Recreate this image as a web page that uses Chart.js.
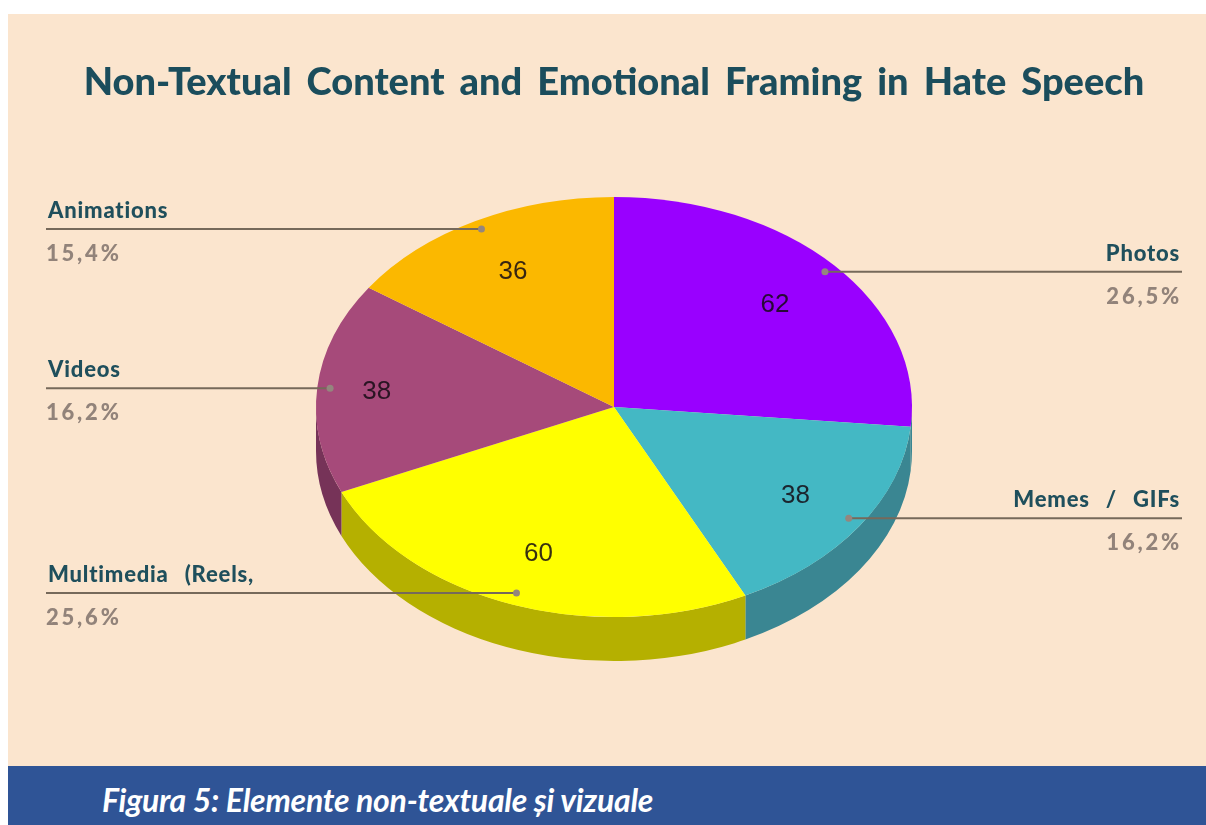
<!DOCTYPE html>
<html><head><meta charset="utf-8">
<script src="https://cdn.jsdelivr.net/npm/chart.js@4"></script>
<style>
html,body{margin:0;padding:0;background:#fff;width:1206px;height:825px;overflow:hidden}
#bg{position:absolute;left:8px;top:14px;width:1198px;height:752px;background:#FBE5CE}
#band{position:absolute;left:8px;top:766px;width:1198px;height:59px;background:#2F5496}
#cap{position:absolute;left:102px;top:780px;color:#fff;font:italic 700 32px Lato,sans-serif;letter-spacing:-0.24px;white-space:nowrap}
canvas{position:absolute;left:0;top:0}
</style></head><body>
<div id="bg"></div><div id="band"></div>
<div id="cap">Figura 5: Elemente non-textuale și vizuale</div>
<canvas id="c" width="1206" height="825"></canvas>
<script>
const titleText = "Non-Textual Content and Emotional Framing in Hate Speech";
const categories = ["Photos", "Memes / GIFs", "Multimedia (Reels,", "Videos", "Animations"];
const values = [62, 38, 60, 38, 36];
const percents = ["26,5%", "16,2%", "25,6%", "16,2%", "15,4%"];
const topColors = ["#9900FF", "#44B8C4", "#FFFF00", "#A64A7A", "#FBB800"];
const wallColors = ["#3A8692", "#3A8692", "#B5B000", "#763358", "#B08100"];

const SQUASH = 0.705, DEPTH = 44, RADIUS = 298;
const VALUE_RATIO = [0.73, 0.74, 0.74, 0.8, 0.73];

const pie3d = {
  id: "pie3d",
  beforeDatasetsDraw(chart) {
    const ctx = chart.ctx, arcs = chart.getDatasetMeta(0).data;
    const cx = arcs[0].x, cy = arcs[0].y, rx = arcs[0].outerRadius, ry = rx * SQUASH;
    ctx.save();
    arcs.forEach((a, i) => {
      const s = Math.max(a.startAngle, 0), e = Math.min(a.endAngle, Math.PI);
      if (e <= s) return;
      ctx.beginPath();
      ctx.ellipse(cx, cy, rx, ry, 0, s, e);
      ctx.ellipse(cx, cy + DEPTH, rx, ry, 0, e, s, true);
      ctx.closePath();
      ctx.fillStyle = wallColors[i];
      ctx.fill();
    });
    ctx.restore();
    ctx.save();
    ctx.translate(cx, cy); ctx.scale(1, SQUASH); ctx.translate(-cx, -cy);
  },
  afterDatasetsDraw(chart) {
    const ctx = chart.ctx;
    ctx.restore();
    const arcs = chart.getDatasetMeta(0).data;
    arcs.forEach((a, i) => {
      const mid = (a.startAngle + a.endAngle) / 2, c = Math.cos(mid), s = Math.sin(mid);
      const R = a.outerRadius;
      // value inside the slice
      ctx.save();
      ctx.font = "26px 'Liberation Sans'";
      ctx.fillStyle = "rgba(20,10,20,0.85)";
      ctx.textAlign = "center"; ctx.textBaseline = "middle";
      const vr = VALUE_RATIO[i];
      ctx.fillText(String(values[i]), a.x + c * R * vr, a.y + s * R * vr * SQUASH + 1);
      ctx.restore();
      // callout
      const dx = a.x + c * R * 0.957, dy = a.y + s * R * 0.957 * SQUASH - (s > 0 ? 3 : 0);
      const right = c > 0, end = right ? 1182 : 46;
      ctx.save();
      ctx.strokeStyle = "#76695A"; ctx.lineWidth = 2;
      ctx.beginPath(); ctx.moveTo(dx, dy); ctx.lineTo(end, dy); ctx.stroke();
      ctx.fillStyle = "#94867E";
      ctx.beginPath(); ctx.arc(dx, dy, 3.5, 0, 2 * Math.PI); ctx.fill();
      ctx.textAlign = right ? "right" : "left";
      ctx.textBaseline = "alphabetic";
      ctx.font = "900 22px Lato";
      ctx.letterSpacing = "0.8px";
      ctx.wordSpacing = "10px";
      ctx.fillStyle = "#1F4F5C";
      ctx.fillText(categories[i], right ? end - 2 : end + 2, dy - 11);
      ctx.font = "900 22px Lato";
      ctx.letterSpacing = "2.8px";
      ctx.wordSpacing = "0px";
      ctx.fillStyle = "#92837A";
      ctx.fillText(percents[i], end, dy + 32);
      ctx.restore();
    });
  }
};

const spacing = {
  id: "titleSpacing",
  beforeDraw(chart) { chart.ctx.letterSpacing = "0px"; chart.ctx.wordSpacing = "6px"; },
  beforeDatasetsDraw(chart) { chart.ctx.letterSpacing = "0px"; chart.ctx.wordSpacing = "0px"; }
};

new Chart(document.getElementById("c"), {
  type: "pie",
  data: { labels: categories, datasets: [{ data: values, backgroundColor: topColors, borderWidth: 0, radius: RADIUS }] },
  plugins: [spacing, pie3d],
  options: {
    responsive: false, animation: false,
    layout: { padding: { left: 22, top: 0, right: 0, bottom: 116.6 } },
    plugins: {
      legend: { display: false }, tooltip: { enabled: false },
      title: { display: true, text: titleText, color: "#1B4D5C",
        font: { family: "Lato", size: 38, weight: "900" }, padding: { top: 60, bottom: 0 } }
    }
  }
});
</script></body></html>
